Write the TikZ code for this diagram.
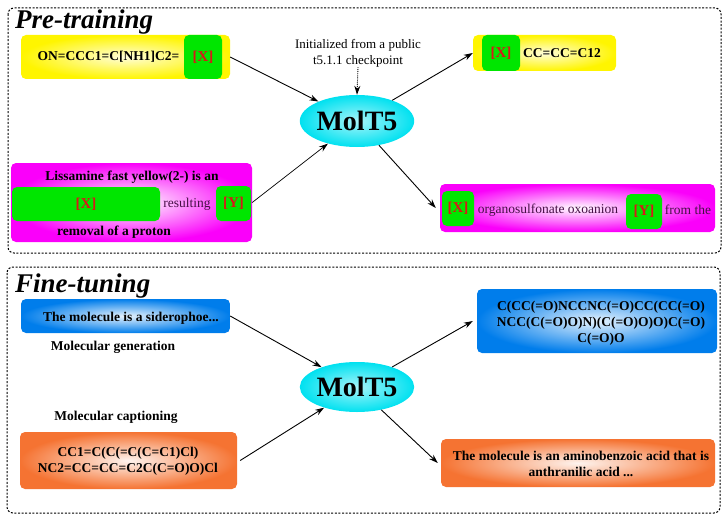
\documentclass[tikz,border=0pt]{standalone}
\usepackage{fontspec}
\setmainfont{LiberationSerif}[Extension=.ttf, UprightFont=*-Regular, BoldFont=*-Bold, ItalicFont=*-Italic, BoldItalicFont=*-BoldItalic]
\usetikzlibrary{shapes.geometric,arrows.meta}
\definecolor{myyellow}{RGB}{255,245,0}
\definecolor{mygreen}{RGB}{0,230,0}
\definecolor{mymag}{RGB}{250,0,250}
\definecolor{myblue}{RGB}{0,125,235}
\definecolor{myorange}{RGB}{245,115,50}
\definecolor{mycyan}{RGB}{0,225,240}
\definecolor{myred}{RGB}{215,25,25}
\definecolor{mypurp}{RGB}{70,15,70}
\tikzset{
  frame/.style={draw, line width=1pt, dash pattern=on 2pt off 1.6pt, rounded corners=6pt},
  ttl/.style={anchor=base west, font=\fontsize{27}{30}\selectfont\bfseries\itshape, inner sep=0pt},
  bx/.style={rounded corners=5pt, inner sep=0pt},
  ybox/.style={bx, shade, inner color=myyellow!15, outer color=myyellow},
  mbox/.style={bx, shade, inner color=white, outer color=mymag},
  bbox/.style={bx, shade, inner color=myblue!10, outer color=myblue},
  obox/.style={bx, shade, inner color=myorange!8, outer color=myorange},
  gbox/.style={rounded corners=5pt, fill=mygreen, inner sep=0pt, font=\fontsize{15}{17}\selectfont\bfseries, text=myred},
  btxt/.style={font=\fontsize{13.5}{16}\selectfont\bfseries, inner sep=0pt, align=center},
  rtxt/.style={font=\fontsize{13.5}{16}\selectfont, text=mypurp, inner sep=0pt},
  molt/.style={ellipse, shade, inner color=mycyan!35, outer color=mycyan, minimum width=90pt, minimum height=52pt, inner sep=0pt, font=\fontsize{28}{30}\selectfont\bfseries},
  arr/.style={-{Stealth[length=9pt,width=6pt]}, line width=0.9pt},
}
\begin{document}
\begin{tikzpicture}[x=1pt,y=-1pt]
\useasboundingbox (0,0) rectangle (726,519);
% frames
\draw[frame] (8,8) rectangle (721,253);
\draw[frame] (7,267) rectangle (720,513);
% titles
\node[ttl] (t1) at (15,29) {Pre-training};
\node[ttl] (t2) at (15,292) {Fine-tuning};

% ---------- pre-training ----------
\node[ybox, minimum width=209pt, minimum height=44pt] (y1) at (125.5,57) {};
\node[gbox, minimum width=38pt, minimum height=44pt] (gx1) at (203,57) {[X]};
\node[btxt] (y1t) at (108.5,57) {ON=CCC1=C[NH1]C2=};

\node[ybox, minimum width=143pt, minimum height=36pt] (y2) at (544.5,53) {};
\node[gbox, minimum width=38pt, minimum height=36pt] (gx2) at (501,53) {[X]};
\node[btxt] (y2t) at (562,53) {CC=CC=C12};

\node[font=\fontsize{13}{16}\selectfont, align=center, inner sep=0pt] (init) at (358,53) {Initialized from a public\\t5.1.1 checkpoint};
\node[molt] (m1) at (357,121) {MolT5};

\node[mbox, minimum width=241pt, minimum height=79pt] (mg1) at (131.5,202.5) {};
\node[btxt] (mg1a) at (132,177) {Lissamine fast yellow(2-) is an};
\node[gbox, minimum width=148pt, minimum height=34pt] (gx3) at (86,204) {[X]};
\node[rtxt] (res) at (187,204) {resulting};
\node[gbox, minimum width=35pt, minimum height=35pt] (gy3) at (233.5,203.5) {[Y]};
\node[btxt] (mg1b) at (114,232) {removal of a proton};

\node[mbox, minimum width=275pt, minimum height=48pt] (mg2) at (577.5,208) {};
\node[gbox, minimum width=32pt, minimum height=35pt] (gx4) at (458,208.5) {[X]};
\node[rtxt] (org) at (548,210) {organosulfonate oxoanion};
\node[gbox, minimum width=36pt, minimum height=35pt] (gy4) at (644,211.5) {[Y]};
\node[rtxt] (fro) at (688,210) {from the};

\draw[arr, densely dotted] (init.south) -- (m1.north);
\draw[arr] (y1.east) -- (m1);
\draw[arr] (m1) -- (y2.west);
\draw[arr, line width=0.7pt] (mg1.east) -- (m1);
\draw[arr] (m1) -- ([xshift=-4pt]mg2.west);

% ---------- fine-tuning ----------
\node[bbox, minimum width=209pt, minimum height=34pt] (b1) at (125.5,316) {};
\node[btxt] (b1t) at (131,318) {The molecule is a siderophoe...};
\node[btxt] (gen) at (113,347) {Molecular generation};

\node[molt, minimum height=50pt] (m2) at (357,387) {MolT5};

\node[bbox, minimum width=240pt, minimum height=64pt] (b2) at (597,321) {};
\node[btxt] (b2t) at (601,323) {C(CC(=O)NCCNC(=O)CC(CC(=O)\\NCC(C(=O)O)N)(C(=O)O)O)C(=O)\\C(=O)O};

\node[btxt] (cap) at (116,417) {Molecular captioning};
\node[obox, minimum width=217pt, minimum height=57pt] (o1) at (128.5,460.5) {};
\node[btxt] (o1t) at (128,461) {CC1=C(C(=C(C=C1)Cl)\\NC2=CC=CC=C2C(C=O)O)Cl};

\node[obox, minimum width=274pt, minimum height=48pt] (o2) at (578,463) {};
\node[btxt] (o2t) at (581,464) {The molecule is an aminobenzoic acid that is\\anthranilic acid ...};

\draw[arr] (b1.east) -- (m2);
\draw[arr] (m2) -- ([xshift=-4pt]b2.west);
\draw[arr] ([xshift=3pt]o1.east) -- (m2);
\draw[arr] (m2) -- ([xshift=-3pt]o2.west);
\end{tikzpicture}
\end{document}
